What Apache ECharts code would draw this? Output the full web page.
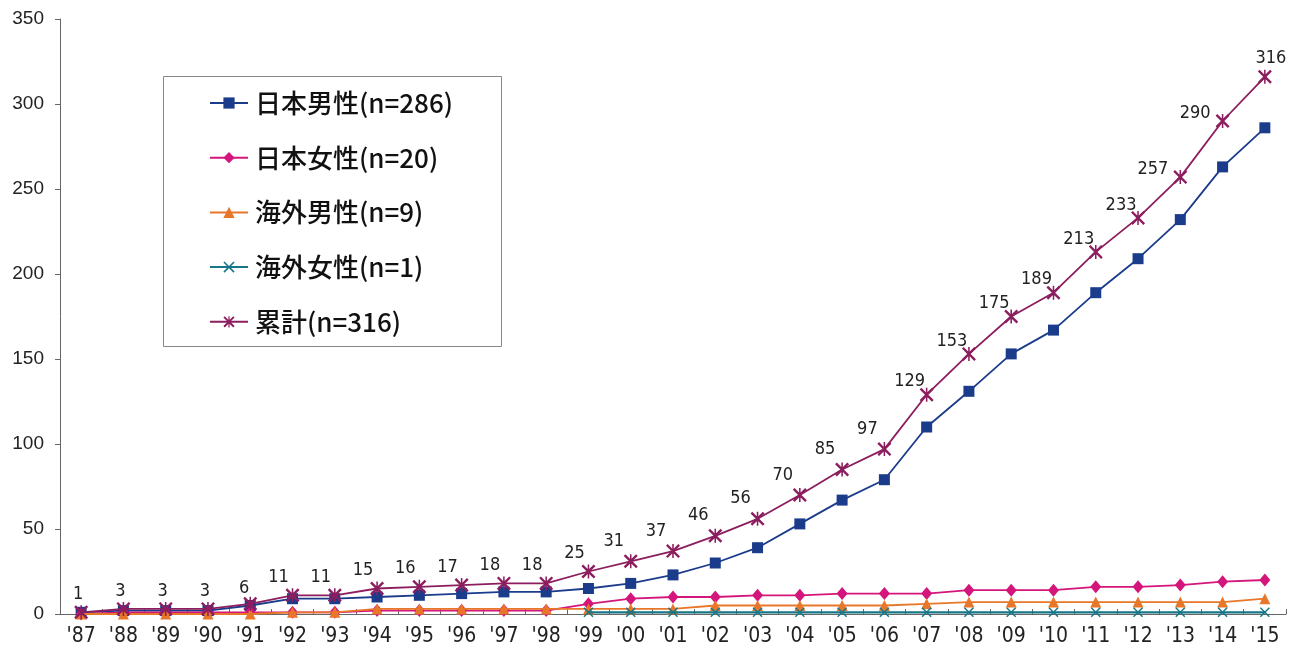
<!DOCTYPE html>
<html>
<head>
<meta charset="utf-8">
<script src="https://cdn.jsdelivr.net/npm/echarts@6/dist/echarts.min.js"></script>
<style>
html,body{margin:0;padding:0;background:#fff;}
#chart{width:1299px;height:651px;}
</style>
</head>
<body>
<div id="chart"></div>
<script>
const years = ["'87","'88","'89","'90","'91","'92","'93","'94","'95","'96","'97","'98","'99","'00","'01","'02","'03","'04","'05","'06","'07","'08","'09","'10","'11","'12","'13","'14","'15"];
const japanMale   = [1,2,2,2,5,9,9,10,11,12,13,13,15,18,23,30,39,53,67,79,110,131,153,167,189,209,232,263,286];
const japanFemale = [0,1,1,1,1,1,1,2,2,2,2,2,6,9,10,10,11,11,12,12,12,14,14,14,16,16,17,19,20];
const overseasMale   = [0,0,0,0,0,1,1,3,3,3,3,3,3,3,3,5,5,5,5,5,6,7,7,7,7,7,7,7,9];
const overseasFemale = [null,null,null,null,null,null,null,null,null,null,null,null,1,1,1,1,1,1,1,1,1,1,1,1,1,1,1,1,1];
const cumulative = [1,3,3,3,6,11,11,15,16,17,18,18,25,31,37,46,56,70,85,97,129,153,175,189,213,233,257,290,316];
const seriesNames = ['日本男性','日本女性','海外男性','海外女性','累計'];
const seriesCounts = ['(n=286)','(n=20)','(n=9)','(n=1)','(n=316)'];
const yTicks = [0,50,100,150,200,250,300,350];

const X_PATH = 'path://M0,1L1,0L5,4L9,0L10,1L6,5L10,9L9,10L5,6L1,10L0,9L4,5Z';
const STAR_PATH = 'path://M0,1.2L1.2,0L5,3.8L8.8,0L10,1.2L6.2,5L10,8.8L8.8,10L5,6.2L1.2,10L0,8.8L3.8,5Z M4.45,0L5.55,0L5.55,10L4.45,10Z';
const NARROW = '"Liberation Sans Narrow", "DejaVu Sans Condensed", "Roboto Condensed", Roboto, sans-serif';

function labelFor(i, n) {
  if (i === n - 1) return {position: 'top', offset: [6, 3]};
  if (i >= 26) return {position: 'left', offset: [0, -8]};
  if (i >= 20) return {position: 'top', offset: [-17, 8]};
  if (i >= 13) return {position: 'top', offset: [-17, 1]};
  if (i >= 5) return {position: 'top', offset: [-14, 3]};
  if (i === 4) return {position: 'top', offset: [-6, 6]};
  return {position: 'top', offset: [-3, 3]};
}
const cumData = cumulative.map((v, i) => ({value: v, label: labelFor(i, cumulative.length)}));

const colors = ['#1b3b8b', '#d4157b', '#e8772a', '#157687', '#8c1d5e'];
const symbols = ['rect', 'diamond', 'triangle', X_PATH, STAR_PATH];
const symbolSizes = [11, [11, 13], 11, 10, 14];
const dataSets = [japanMale, japanFemale, overseasMale, overseasFemale, cumData];

const chart = echarts.init(document.getElementById('chart'), null, {renderer: 'canvas'});
const option = {
  animation: false,
  backgroundColor: '#fff',
  grid: {left: 60, right: 13, top: 19, bottom: 37, containLabel: false},
  xAxis: {
    type: 'category',
    data: years,
    boundaryGap: true,
    axisLine: {lineStyle: {color: '#666', width: 1}},
    axisTick: {show: true, inside: true, length: 5, lineStyle: {color: '#666'}},
    axisLabel: {color: '#222', fontSize: 21, fontFamily: NARROW, margin: 12, interval: 0},
    splitLine: {show: false}
  },
  yAxis: {
    type: 'value',
    min: 0, max: 350, interval: 50,
    axisLine: {show: true, lineStyle: {color: '#666', width: 1}},
    axisTick: {show: true, inside: false, length: 5, lineStyle: {color: '#666'}},
    axisLabel: {color: '#222', fontSize: 19, fontFamily: 'Liberation Sans', margin: 16,
      formatter: v => yTicks.includes(v) ? String(v) : ''},
    splitLine: {show: false}
  },
  legend: {
    orient: 'vertical',
    left: 209, top: 90,
    itemWidth: 38, itemHeight: 14,
    itemGap: 28.7,
    padding: 0,
    data: seriesNames,
    formatter: name => '{c|' + name + '}{l|' + seriesCounts[seriesNames.indexOf(name)] + '}',
    textStyle: {
      color: '#111',
      padding: [0, 0, 0, 2],
      rich: {
        c: {fontFamily: 'Noto Sans CJK JP', fontSize: 26, color: '#111', fontWeight: 500},
        l: {fontFamily: 'Noto Sans CJK JP', fontSize: 26, color: '#111', fontWeight: 500}
      }
    }
  },
  graphic: [{
    type: 'rect', left: 163, top: 76, z: -1,
    shape: {width: 338, height: 270},
    style: {fill: '#fff', stroke: '#888', lineWidth: 1}
  }],
  series: seriesNames.map((name, k) => ({
    name: name,
    type: 'line',
    data: dataSets[k],
    symbol: symbols[k],
    symbolSize: symbolSizes[k],
    showAllSymbol: true,
    connectNulls: false,
    color: colors[k],
    lineStyle: {color: colors[k], width: k === 3 ? 2.2 : 1.8},
    itemStyle: {color: colors[k]},
    z: 2 + k,
    label: k === 4 ? {show: true, color: '#222', fontSize: 18, fontFamily: NARROW} : {show: false}
  }))
};
chart.setOption(option);
</script>
</body>
</html>
